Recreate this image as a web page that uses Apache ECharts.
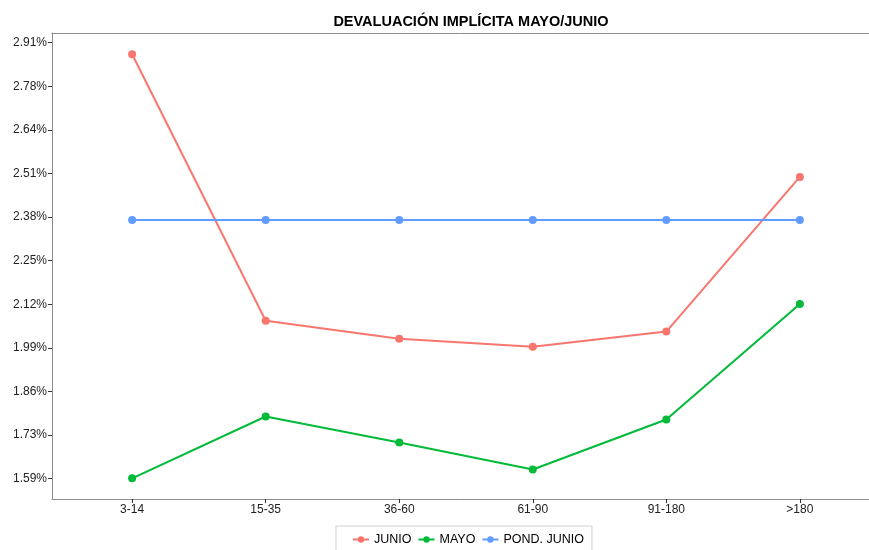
<!DOCTYPE html>
<html>
<head>
<meta charset="utf-8">
<script src="https://cdn.jsdelivr.net/npm/echarts@6/dist/echarts.min.js"></script>
<style>
  html, body { margin: 0; padding: 0; background: #fff; }
  #main { width: 869px; height: 550px; }
</style>
</head>
<body>
<div id="main"></div>
<script>
// categorias (plazos)
var categories = ['3-14', '15-35', '36-60', '61-90', '91-180', '>180'];

// valores en %
var junio = [2.880, 2.070, 2.015, 1.991, 2.037, 2.507];
var mayo = [1.591, 1.779, 1.700, 1.618, 1.770, 2.121];
var pondJunio = [2.376, 2.376, 2.376, 2.376, 2.376, 2.376];

// marcas del eje y
var yTickValues = [1.5900, 1.7225, 1.8550, 1.9875, 2.1200, 2.2525, 2.3850, 2.5175, 2.6500, 2.7825, 2.9150];
var yTickLabels = ['1.59%', '1.73%', '1.86%', '1.99%', '2.12%', '2.25%', '2.38%', '2.51%', '2.64%', '2.78%', '2.91%'];

var font = 'Liberation Sans, Arial, sans-serif';
var borde = '#8c8c8c';

function pairs(arr) {
    return arr.map(function (v, i) { return [i, v]; });
}

var myChart = echarts.init(document.getElementById('main'));

var option = {
    backgroundColor: '#fff',
    animation: false,
    title: {
        text: 'DEVALUACIÓN IMPLÍCITA MAYO/JUNIO',
        left: 466,
        textAlign: 'center',
        top: 9,
        textStyle: { fontFamily: font, fontSize: 14.5, fontWeight: 'bold', color: '#000' }
    },
    legend: {
        data: ['JUNIO', 'MAYO', 'POND. JUNIO'],
        left: 336,
        top: 526,
        padding: [7, 8, 8, 16],
        itemGap: 6,
        itemWidth: 16,
        itemHeight: 8,
        borderColor: '#d0d0d0',
        borderWidth: 1,
        textStyle: { fontFamily: font, fontSize: 12.5, color: '#000' }
    },
    grid: {
        left: 52,
        top: 33,
        width: 828,
        height: 466,
        outerBoundsMode: 'none',
        containLabel: false,
        show: false
    },
    xAxis: [{
        type: 'value',
        min: -0.6,
        max: 5.6,
        splitLine: { show: false },
        axisLine: { show: true, onZero: false, lineStyle: { color: borde, width: 1 } },
        axisTick: {
            show: true, length: 4, inside: false,
            customValues: [0, 1, 2, 3, 4, 5],
            lineStyle: { color: '#333' }
        },
        axisLabel: {
            customValues: [0, 1, 2, 3, 4, 5],
            margin: 5,
            fontFamily: font, fontSize: 12, color: '#222',
            formatter: function (v) { return categories[Math.round(v)]; }
        }
    }, {
        // linea superior del panel
        type: 'value',
        position: 'top',
        min: -0.6,
        max: 5.6,
        splitLine: { show: false },
        axisLine: { show: true, onZero: false, lineStyle: { color: borde, width: 1 } },
        axisTick: { show: false },
        axisLabel: { show: false }
    }],
    yAxis: {
        type: 'value',
        min: 1.5283,
        max: 2.9445,
        splitLine: { show: false },
        axisLine: { show: true, onZero: false, lineStyle: { color: borde, width: 1 } },
        axisTick: {
            show: true, length: 4, inside: false,
            customValues: yTickValues,
            lineStyle: { color: '#333' }
        },
        axisLabel: {
            customValues: yTickValues,
            margin: 5,
            fontFamily: font, fontSize: 12, color: '#222',
            formatter: function (v) {
                var idx = 0, best = 1e9;
                yTickValues.forEach(function (t, i) {
                    if (Math.abs(t - v) < best) { best = Math.abs(t - v); idx = i; }
                });
                return yTickLabels[idx];
            }
        }
    },
    series: [
        {
            name: 'JUNIO', type: 'line', data: pairs(junio),
            color: '#F8766D', symbol: 'circle', symbolSize: 8,
            lineStyle: { width: 2 }
        },
        {
            name: 'MAYO', type: 'line', data: pairs(mayo),
            color: '#00BA38', symbol: 'circle', symbolSize: 8,
            lineStyle: { width: 2 }
        },
        {
            name: 'POND. JUNIO', type: 'line', data: pairs(pondJunio),
            color: '#619CFF', symbol: 'circle', symbolSize: 8,
            lineStyle: { width: 2 }
        }
    ]
};

myChart.setOption(option);
</script>
</body>
</html>
